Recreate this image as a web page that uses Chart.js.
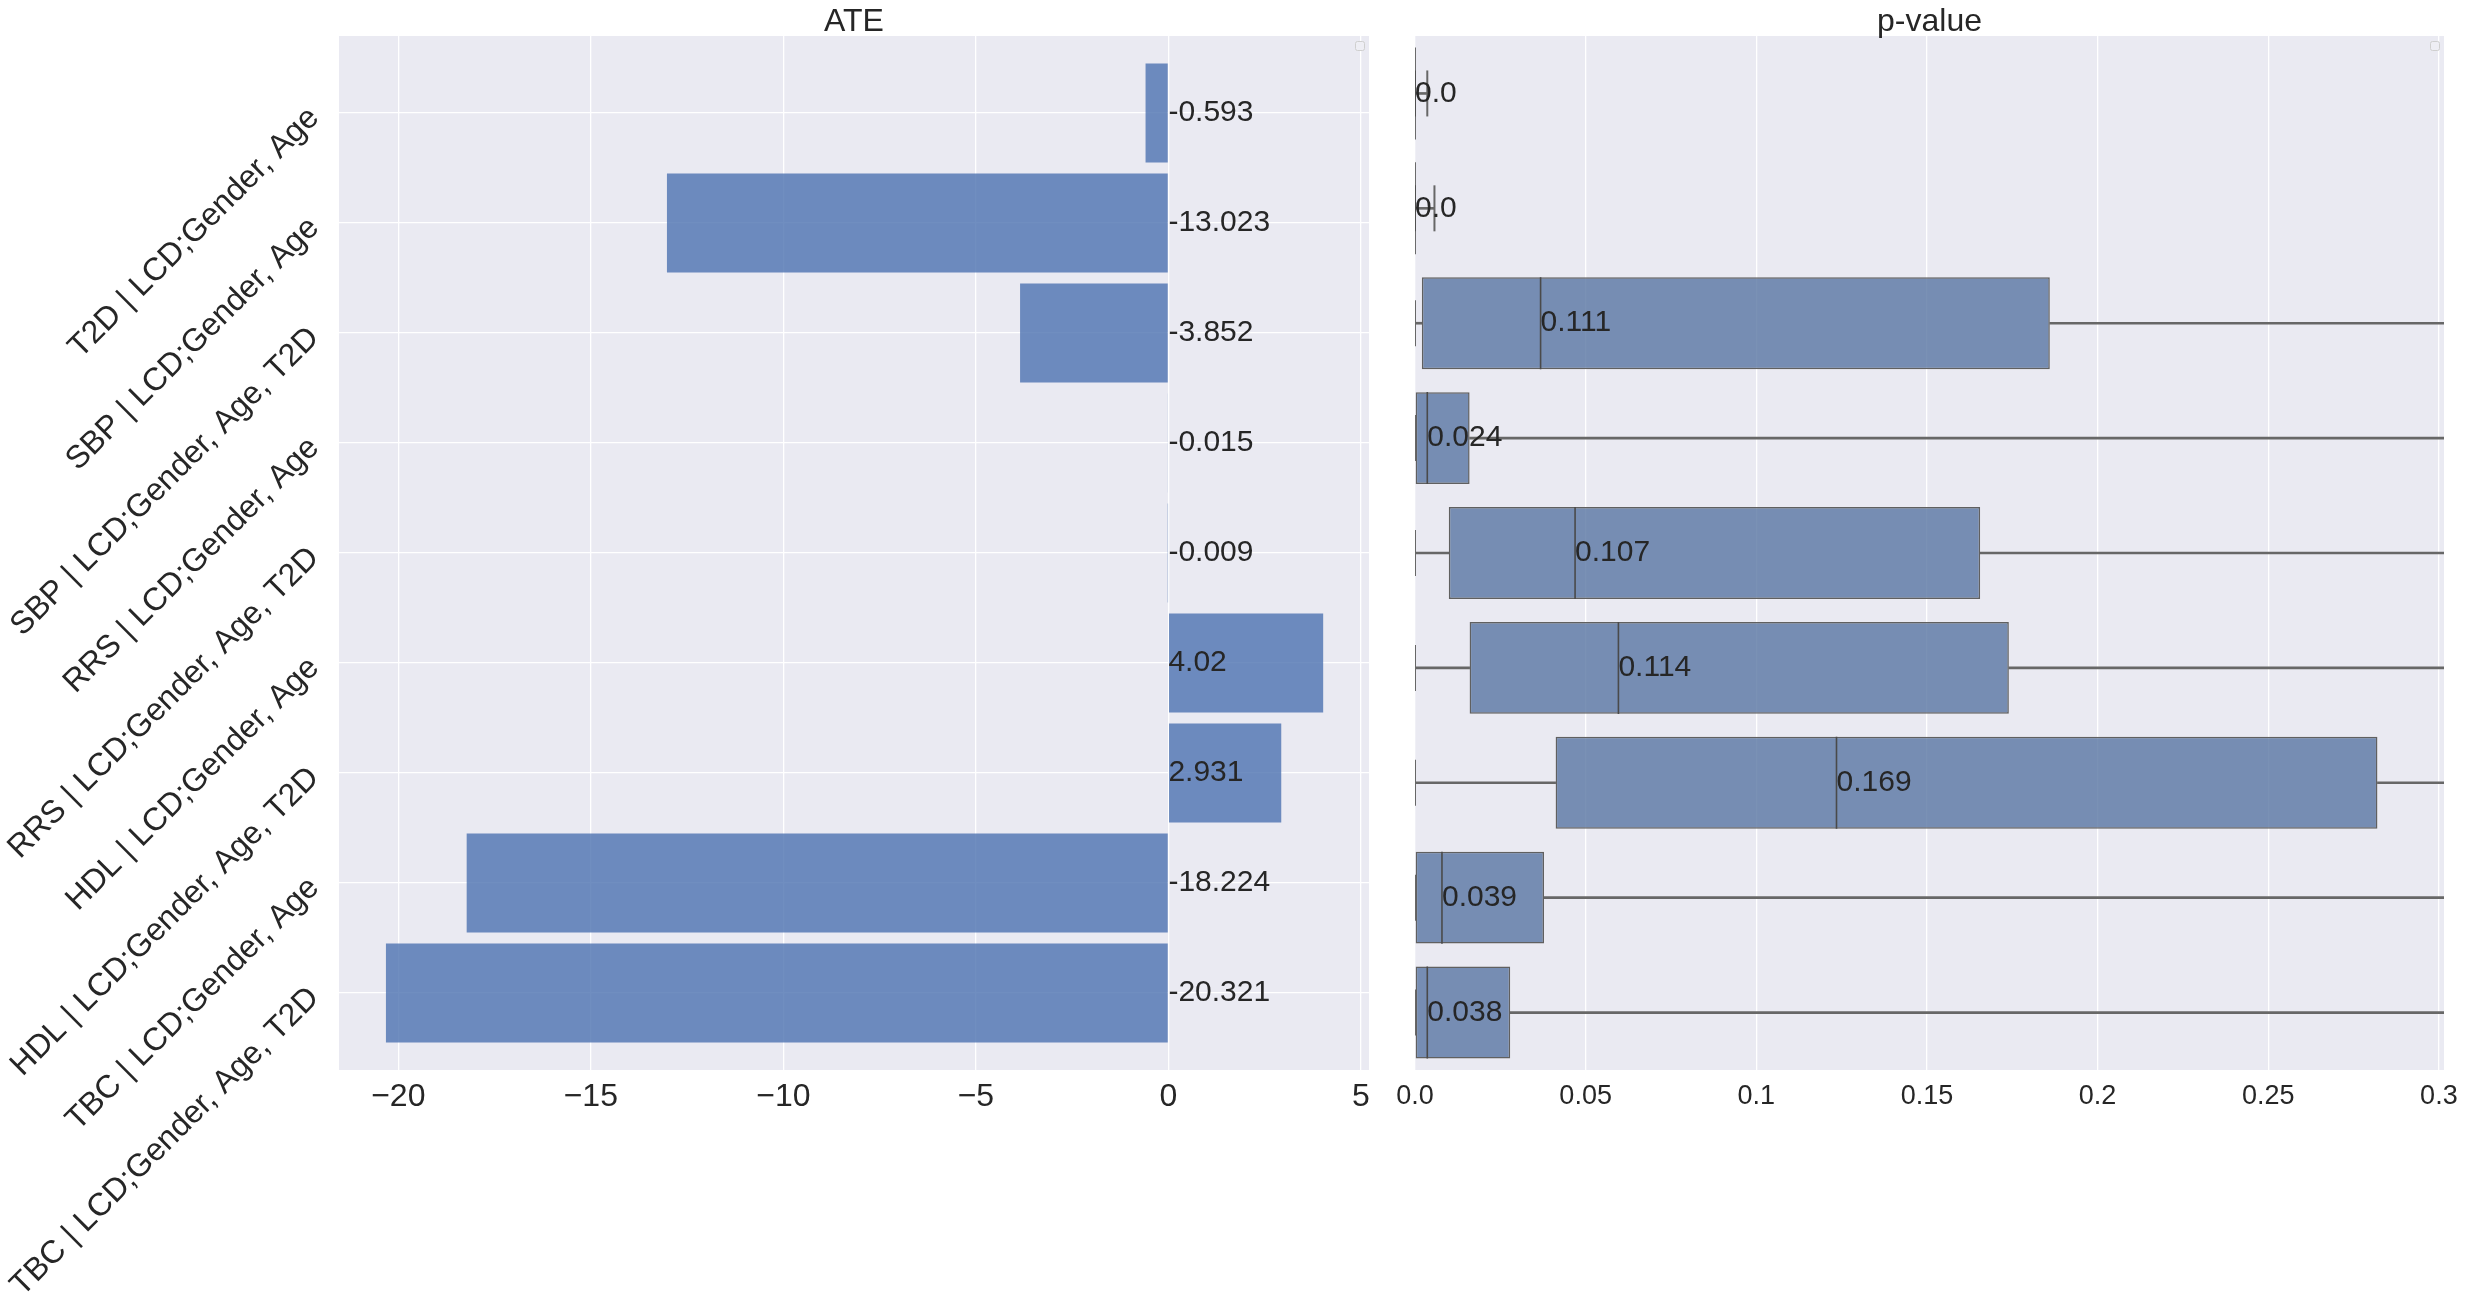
<!DOCTYPE html>
<html>
<head>
<meta charset="utf-8">
<title>ATE and p-value</title>
<script src="https://cdn.jsdelivr.net/npm/chart.js@4/dist/chart.umd.min.js"></script>
<style>
    html, body { margin: 0; padding: 0; background: #ffffff; }
    #wrap { position: relative; width: 2467px; height: 1309px; }
    #ate-box { position: absolute; left: 0; top: 0; width: 1392px; height: 1309px; }
    #p-box { position: absolute; left: 1392px; top: 0; width: 1075px; height: 1309px; }
</style>
</head>
<body>
<div id="wrap">
    <div id="ate-box"><canvas id="ate-chart"></canvas></div>
    <div id="p-box"><canvas id="p-chart"></canvas></div>
</div>
<script>
// Rows, top to bottom
const rowLabels = [
    'T2D | LCD;Gender, Age',
    'SBP | LCD;Gender, Age',
    'SBP | LCD;Gender, Age, T2D',
    'RRS | LCD;Gender, Age',
    'RRS | LCD;Gender, Age, T2D',
    'HDL | LCD;Gender, Age',
    'HDL | LCD;Gender, Age, T2D',
    'TBC | LCD;Gender, Age',
    'TBC | LCD;Gender, Age, T2D'
];

// Left panel: ATE bars
const ateValues = [-0.593, -13.023, -3.852, -0.015, -0.009, 4.02, 2.931, -18.224, -20.321];
const ateValueLabels = ['-0.593', '-13.023', '-3.852', '-0.015', '-0.009', '4.02', '2.931', '-18.224', '-20.321'];
const ateTicks = [-20, -15, -10, -5, 0, 5];
const ateTickLabels = ['\u221220', '\u221215', '\u221210', '\u22125', '0', '5'];

// Right panel: p-value box plots
const pWhiskerLow = [0, 0, 0, 0, 0, 0, 0, 0, 0];
const pQ1 = [0, 0, 0.002, 0, 0.0099, 0.016, 0.0412, 0, 0];
const pMedian = [0, 0, 0.0368, 0.0036, 0.0469, 0.0596, 0.1235, 0.0079, 0.0036];
const pQ3 = [0, 0, 0.186, 0.016, 0.1656, 0.174, 0.282, 0.0378, 0.0279];
const pWhiskerHigh = [0.0036, 0.0057, 0.97, 0.99, 0.95, 0.98, 0.94, 0.99, 0.96];
const pMeanLabels = ['0.0', '0.0', '0.111', '0.024', '0.107', '0.114', '0.169', '0.039', '0.038'];
const pTicks = [0, 0.05, 0.1, 0.15, 0.2, 0.25, 0.3];
const pTickLabels = ['0.0', '0.05', '0.1', '0.15', '0.2', '0.25', '0.3'];

const textColor = '#262626';
const fontFamily = "'Liberation Sans', Arial, Helvetica, sans-serif";
Chart.defaults.font.family = fontFamily;
Chart.defaults.color = textColor;

// Grey plot background (seaborn darkgrid look)
const plotBackground = {
    id: 'plotBackground',
    beforeDraw(chart) {
        const {ctx, chartArea: a} = chart;
        ctx.save();
        ctx.fillStyle = '#eaeaf2';
        ctx.fillRect(a.left, a.top, a.right - a.left, a.bottom - a.top);
        ctx.restore();
    }
};

// Panel title centred over the plot area, plus the empty legend frame top right
const panelDecor = {
    id: 'panelDecor',
    afterDraw(chart, args, opts) {
        const {ctx, chartArea: a} = chart;
        ctx.save();
        ctx.font = '32px ' + fontFamily;
        ctx.fillStyle = textColor;
        ctx.textAlign = 'center';
        ctx.textBaseline = 'alphabetic';
        ctx.fillText(opts.text, (a.left + a.right) / 2, a.top - 5);

        ctx.strokeStyle = '#cfcfcf';
        ctx.fillStyle = '#eeeef4';
        ctx.lineWidth = 1;
        ctx.beginPath();
        ctx.roundRect(a.right - 13.5, a.top + 5.5, 9, 9, 2);
        ctx.fill();
        ctx.stroke();
        ctx.restore();
    }
};

// Value text next to each ATE bar, starting at zero
const ateValueText = {
    id: 'ateValueText',
    afterDatasetsDraw(chart) {
        const {ctx, scales} = chart;
        ctx.save();
        ctx.font = '30px ' + fontFamily;
        ctx.fillStyle = textColor;
        ctx.textAlign = 'left';
        ctx.textBaseline = 'middle';
        ateValues.forEach((v, i) => {
            ctx.fillText(ateValueLabels[i], scales.x.getPixelForValue(0), scales.y.getPixelForValue(i));
        });
        ctx.restore();
    }
};

// Mean text placed at each box's median
const pValueText = {
    id: 'pValueText',
    afterDatasetsDraw(chart) {
        const {ctx, scales} = chart;
        ctx.save();
        ctx.font = '30px ' + fontFamily;
        ctx.fillStyle = textColor;
        ctx.textAlign = 'left';
        ctx.textBaseline = 'middle';
        pMedian.forEach((m, i) => {
            ctx.fillText(pMeanLabels[i], scales.x.getPixelForValue(m), scales.y.getPixelForValue(i));
        });
        ctx.restore();
    }
};

const gridStyle = { color: '#ffffff', lineWidth: 1.3, drawTicks: false, offset: false };

// keep tick labels from pushing the plot area inwards
function fixXAxis(scale) {
    scale.height = 239;
    scale.paddingLeft = 0;
    scale.paddingRight = 0;
}

function fixYAxis(scale) {
    scale.width = 339;
    scale.paddingTop = 0;
    scale.paddingBottom = 0;
}

// Chart 1: ATE
new Chart(document.getElementById('ate-chart'), {
    type: 'bar',
    data: {
        datasets: [{
            data: ateValues.map((v, i) => ({x: v, y: i})),
            backgroundColor: 'rgba(76, 114, 176, 0.8)',
            borderWidth: 0,
            barPercentage: 0.9,
            categoryPercentage: 1.0
        }]
    },
    options: {
        indexAxis: 'y',
        responsive: true,
        maintainAspectRatio: false,
        animation: false,
        layout: { autoPadding: false, padding: { left: 0, right: 23, top: 36, bottom: 0 } },
        plugins: {
            legend: { display: false },
            tooltip: { enabled: false },
            title: { display: false },
            panelDecor: { text: 'ATE' }
        },
        scales: {
            x: {
                type: 'linear',
                min: -21.54,
                max: 5.21,
                afterBuildTicks: scale => { scale.ticks = ateTicks.map(v => ({value: v})); },
                afterFit: fixXAxis,
                grid: gridStyle,
                border: { display: false },
                ticks: {
                    font: { size: 32 },
                    padding: 8,
                    maxRotation: 0,
                    callback: value => ateTickLabels[ateTicks.indexOf(value)]
                }
            },
            y: {
                type: 'linear',
                reverse: true,
                offset: false,
                min: -0.7,
                max: 8.7,
                afterBuildTicks: scale => { scale.ticks = rowLabels.map((_, i) => ({value: i})); },
                afterFit: fixYAxis,
                grid: gridStyle,
                border: { display: false },
                ticks: {
                    autoSkip: false,
                    minRotation: 45,
                    maxRotation: 45,
                    padding: 25,
                    font: { size: 32 },
                    callback: value => rowLabels[value]
                }
            }
        }
    },
    plugins: [plotBackground, ateValueText, panelDecor]
});

// Chart 2: p-value box plots
const capPoints = [];
rowLabels.forEach((label, i) => {
    capPoints.push({x: pWhiskerLow[i], y: label});
    capPoints.push({x: pWhiskerHigh[i], y: label});
});

new Chart(document.getElementById('p-chart'), {
    type: 'bar',
    data: {
        labels: rowLabels,
        datasets: [
            {
                // lower whisker
                data: rowLabels.map((_, i) => [pWhiskerLow[i], pQ1[i]]),
                backgroundColor: '#676767',
                borderWidth: 0,
                barThickness: 2,
                grouped: false,
                order: 4
            },
            {
                // upper whisker
                data: rowLabels.map((_, i) => [pQ3[i], pWhiskerHigh[i]]),
                backgroundColor: '#676767',
                borderWidth: 0,
                barThickness: 2,
                grouped: false,
                order: 4
            },
            {
                // box
                data: rowLabels.map((_, i) => [pQ1[i], pQ3[i]]),
                backgroundColor: 'rgba(89, 117, 163, 0.8)',
                borderColor: '#606060',
                borderWidth: 1.5,
                borderSkipped: false,
                barPercentage: 0.8,
                categoryPercentage: 1.0,
                grouped: false,
                order: 2
            },
            {
                // whisker caps
                type: 'line',
                data: capPoints,
                showLine: false,
                pointStyle: 'line',
                pointRotation: 90,
                pointRadius: 23,
                pointBorderWidth: 2,
                pointBorderColor: '#676767',
                pointHoverRadius: 23,
                order: 1
            },
            {
                // median
                type: 'line',
                data: rowLabels.map((label, i) => ({x: pMedian[i], y: label})),
                showLine: false,
                pointStyle: 'line',
                pointRotation: 90,
                pointRadius: 46,
                pointBorderWidth: 1.6,
                pointBorderColor: '#4a4a4a',
                pointHoverRadius: 46,
                order: 0
            }
        ]
    },
    options: {
        indexAxis: 'y',
        responsive: true,
        maintainAspectRatio: false,
        animation: false,
        layout: { autoPadding: false, padding: { left: 23, right: 23, top: 36, bottom: 0 } },
        plugins: {
            legend: { display: false },
            tooltip: { enabled: false },
            title: { display: false },
            panelDecor: { text: 'p-value' }
        },
        scales: {
            x: {
                type: 'linear',
                min: 0,
                max: 0.3015,
                afterBuildTicks: scale => { scale.ticks = pTicks.map(v => ({value: v})); },
                afterFit: fixXAxis,
                grid: gridStyle,
                border: { display: false },
                ticks: {
                    font: { size: 27 },
                    padding: 10,
                    maxRotation: 0,
                    callback: value => pTickLabels[pTicks.indexOf(value)]
                }
            },
            y: {
                type: 'category',
                labels: rowLabels,
                offset: true,
                display: false
            }
        }
    },
    plugins: [plotBackground, pValueText, panelDecor]
});
</script>
</body>
</html>
